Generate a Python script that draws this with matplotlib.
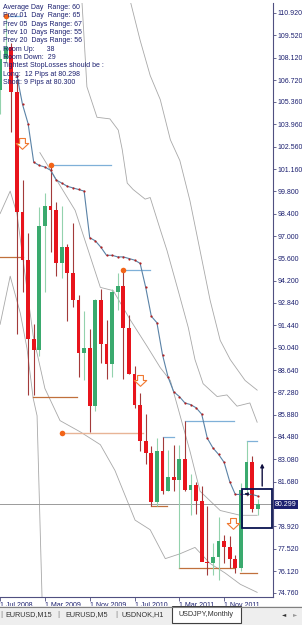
import numpy as np
import matplotlib.pyplot as plt
from matplotlib.path import Path
from matplotlib.patches import Rectangle
import matplotlib.transforms as mtransforms

plt.rcParams['font.family'] = ['Liberation Sans', 'DejaVu Sans']

# monthly USDJPY bars, Jul 2008 .. May 2012 (index 0 = Jul 2008)
opens = [106.1, 108.0, 108.8, 106.0, 98.5, 95.5, 90.6, 89.9, 97.6, 98.9, 98.6, 95.3,
         96.3, 94.7, 93.0, 89.7, 90.0, 86.4, 93.0, 90.3, 89.0, 93.5, 93.9, 91.3,
         88.4, 86.5, 84.2, 83.5, 80.4, 83.6, 81.1, 82.0, 81.8, 83.1, 81.2, 81.5,
         80.5, 76.7, 76.6, 77.0, 78.0, 77.6, 76.9, 76.3, 81.2, 82.9, 80.0]
highs = [108.6, 110.7, 109.0, 106.9, 100.5, 97.2, 91.5, 98.8, 99.7, 101.4, 99.1, 98.9,
         96.5, 97.8, 93.3, 92.3, 91.2, 93.1, 93.7, 91.8, 93.7, 94.7, 94.9, 92.1,
         88.9, 87.2, 85.9, 83.9, 84.4, 84.5, 83.7, 84.0, 84.0, 85.5, 82.2, 81.7,
         81.4, 80.2, 77.9, 79.5, 78.4, 78.3, 77.1, 81.6, 84.2, 83.3, 80.6]
lows = [104.6, 107.8, 103.5, 90.9, 93.5, 87.1, 87.1, 89.5, 93.5, 96.0, 94.5, 94.4,
        91.7, 92.6, 88.2, 88.0, 84.8, 86.1, 89.1, 88.1, 88.2, 92.4, 88.1, 88.4,
        86.3, 83.6, 82.8, 80.2, 80.2, 80.9, 81.1, 81.1, 76.3, 81.1, 79.6, 79.7,
        76.8, 75.9, 75.9, 75.6, 76.6, 76.3, 76.0, 76.1, 80.8, 79.8, 79.6]
closes = [108.0, 108.8, 106.0, 98.5, 95.5, 90.6, 89.9, 97.6, 98.9, 98.6, 95.3, 96.3,
          94.7, 93.0, 89.7, 90.0, 86.4, 93.0, 90.3, 89.0, 93.5, 93.9, 91.3, 88.4,
          86.5, 84.2, 83.5, 80.4, 83.6, 81.1, 82.0, 81.8, 83.1, 81.2, 81.5, 80.5,
          76.7, 76.6, 77.0, 78.0, 77.6, 76.9, 76.3, 81.2, 82.9, 80.0, 80.3]

# dotted trailing line (from month 3)
trail_start = 3
trail = [107.0, 105.2, 104.0, 101.6, 101.4, 101.3, 101.1, 100.5, 100.3, 100.1, 100.0,
         99.9, 99.8, 96.9, 96.7, 96.3, 95.8, 95.8, 95.7, 95.7, 95.6, 95.5, 95.3,
         93.8, 92.0, 91.6, 89.6, 88.2, 87.3, 87.0, 86.6, 86.5, 86.3, 85.9, 84.4,
         83.8, 83.4, 82.9, 81.7, 80.9, 80.9, 80.9, 80.9, 80.8]

# band lines (month, price)
upper1_m = [14.6, 15.5, 17.3, 19.6, 21.1, 21.8, 22.7, 23.75, 25.9, 26.8, 28.6, 29.8,
            31.8, 33.6, 34.8, 36.25, 38.75, 40.5, 42.3, 44.6, 45.9]
upper1_p = [111.7, 106.3, 104.4, 104.3, 103.6, 102.4, 100.3, 99.9, 99.3, 99.4, 97.4,
            96.1, 93.6, 91.3, 89.3, 87.8, 87.0, 87.1, 86.4, 86.6, 85.4]
upper2_m = [23.2, 25.0, 26.8, 28.6, 30.4, 32.1, 33.9, 35.7, 37.5, 39.3, 41.1, 43.75, 45.9]
upper2_p = [111.7, 109.2, 107.0, 105.5, 103.0, 101.7, 99.2, 96.1, 93.0, 90.5, 89.3,
            88.0, 87.4]
mid_m = [7.1, 13.4, 17.9, 20.2, 23.2, 26.3, 28.6, 30.4, 33.9, 35.7, 39.3, 42.9, 45.9]
mid_p = [102.2, 98.6, 93.8, 93.6, 91.8, 90.1, 88.8, 88.0, 83.6, 81.1, 79.9, 79.6, 79.6]
lower1_m = [0.0, 1.8, 3.0, 5.9, 8.0, 10.7, 14.3, 17.9, 20.5, 24.1, 26.8, 29.5, 32.1,
            34.8, 37.5, 40.2, 42.9, 45.9]
lower1_p = [98.4, 99.8, 98.4, 90.8, 87.5, 85.5, 84.8, 84.0, 82.4, 79.3, 78.7, 76.9,
            77.2, 77.6, 76.6, 76.0, 75.3, 74.8]
lower2_m = [0.0, 1.8, 3.6, 4.8, 5.9, 6.6, 7.5]
lower2_p = [91.5, 94.5, 92.2, 90.0, 86.9, 85.8, 74.3]

# levels: (start month, end month, price)
res_levels = [(1, 3.6, 110.7), (9, 19.8, 101.4), (22, 26.8, 94.9), (29, 31, 84.5),
              (33, 41.8, 85.5), (44, 45.9, 84.2)]
sup_levels = [(0, 4, 95.7), (5.9, 13.75, 87.0), (27, 29.8, 80.2), (32, 42, 76.3),
              (42.9, 45.9, 76.0)]
peach_level = (11, 25.5, 84.75)
top_dots_m = [1, 9, 22]
top_dots_p = [110.7, 101.4, 94.9]
low_dot = (11, 84.75)
arrows_m = [3.9, 25, 41.6]
arrows_p = [102.8, 88.0, 79.1]

bid = 80.299
date_ticks = [0, 8, 16, 24, 32, 40]
date_labels = ["1 Jul 2008", "1 Mar 2009", "1 Nov 2009", "1 Jul 2010", "1 Mar 2011",
               "1 Nov 2011"]
price_ticks = [110.920, 109.520, 108.120, 106.720, 105.360, 103.960, 102.560, 101.160,
               99.800, 98.400, 97.000, 95.600, 94.200, 92.840, 91.440, 90.040, 88.640,
               87.280, 85.880, 84.480, 83.080, 81.680, 78.920, 77.520, 76.120, 74.760]
info_lines = ["Average Day  Range: 60", "Prev 01  Day  Range: 65",
              "Prev 05  Days Range: 67", "Prev 10  Days Range: 55",
              "Prev 20  Days Range: 56", "Room Up:      38", "Room Down:  29",
              "Tightest StopLosses should be :", "Long:  12 Pips at 80.298",
              "Short: 9 Pips at 80.300"]
tabs = ["EURUSD,M15", "EURUSD,M5", "USDNOK,H1", "USDJPY,Monthly"]

navy = '#1c2070'
red = '#e8141c'
green = '#3aaa6e'

fig = plt.figure(figsize=(3.02, 6.25), dpi=100)
ax = fig.add_axes([0, 28 / 625, 273 / 302, 594 / 625])
ax.set_xlim(-0.02, 48.73)
ax.set_ylim(74.51, 111.52)

# bands
for mm, pp in [(upper1_m, upper1_p), (upper2_m, upper2_p), (mid_m, mid_p),
               (lower1_m, lower1_p), (lower2_m, lower2_p)]:
    ax.plot(mm, pp, color='#a8a8a8', lw=0.6, zorder=1)

ax.axhline(bid, color='#9a9a9a', lw=0.7, zorder=1)

# level lines
for a, b, p in res_levels:
    ax.plot([a, b], [p, p], color='#7fb0d8', lw=0.9, zorder=2)
for a, b, p in sup_levels:
    ax.plot([a, b], [p, p], color='#c0703c', lw=0.9, zorder=2)
ax.plot(peach_level[:2], [peach_level[2]] * 2, color='#e8b496', lw=1.0, zorder=2)

# candles
for i in range(len(opens)):
    o, h, l, c = opens[i], highs[i], lows[i], closes[i]
    up = c >= o
    ax.vlines(i, l, h, color='#93d2ad' if up else '#a33a3a', lw=0.8, zorder=3)
    ax.bar(i, max(abs(c - o), 0.12), bottom=min(o, c), width=0.68,
           color=green if up else red, zorder=4)

# trailing line with dots
tx = np.arange(trail_start, trail_start + len(trail))
ax.plot(tx, trail, color='#5a82a6', lw=0.8, zorder=5)
ax.plot(tx, trail, 'o', ms=1.6, color='#b22222', mec='none', zorder=6)

ax.plot(top_dots_m, top_dots_p, 'o', ms=4, color='#f26418', mec='none', zorder=6)
ax.plot([low_dot[0]], [low_dot[1]], 'o', ms=4, color='#f26418', mec='none', zorder=6)

# hollow down arrows
arrow = Path([(-0.35, 0.6), (0.35, 0.6), (0.35, 0.0), (0.75, 0.0), (0.0, -0.7),
              (-0.75, 0.0), (-0.35, 0.0), (-0.35, 0.6)])
ax.plot(arrows_m, arrows_p, ls='none', marker=arrow, ms=9, mfc='white',
        mec='#f07830', mew=0.8, zorder=7)

# current box and arrows
ax.add_patch(Rectangle((43.2, 78.8), 5.3, 2.45, fill=False, ec='#0a1450', lw=1.3,
                       zorder=8))
ax.annotate('', xy=(46.8, 83.0), xytext=(46.8, 81.25),
            arrowprops=dict(arrowstyle='-|>', color='#101040', lw=1.0,
                            mutation_scale=5), zorder=8)
ax.annotate('', xy=(43.2, 80.93), xytext=(44.4, 80.93),
            arrowprops=dict(arrowstyle='-|>', color='#101040', lw=0.8,
                            mutation_scale=4), zorder=8)

# info text
for k, s in enumerate(info_lines):
    ax.text(3 / 273, 1 - (7.5 + 8.35 * k - 3) / 594, s, transform=ax.transAxes,
            fontsize=5, color=navy, va='center', ha='left', zorder=9)

# axes styling
for side in ['left', 'top']:
    ax.spines[side].set_visible(False)
ax.spines['right'].set_color('#505080')
ax.spines['bottom'].set_color('#505080')
ax.yaxis.tick_right()
ax.set_yticks(price_ticks)
ax.set_yticklabels([f"{p:.3f}" for p in price_ticks])
ax.tick_params(axis='y', length=2, width=0.6, color='#505080', labelsize=5,
               labelcolor=navy, pad=1.5)
ax.set_xticks(date_ticks)
ax.set_xticklabels(date_labels, ha='left')
ax.tick_params(axis='x', length=3, width=0.6, color='#505080', labelsize=5,
               labelcolor=navy, pad=0.5)

trans = mtransforms.blended_transform_factory(ax.transAxes, ax.transData)
ax.text(1.008, bid, f"{bid:.3f}", transform=trans, fontsize=5, color='white',
        va='center', ha='left', zorder=10,
        bbox=dict(boxstyle='square,pad=0.15', fc=navy, ec='none'))

# tab bar
tb = fig.add_axes([0, 0, 1, 19 / 625])
tb.set_xlim(0, 302)
tb.set_ylim(19, 0)
tb.set_facecolor('#eeeeee')
tb.set_xticks([])
tb.set_yticks([])
for s in tb.spines.values():
    s.set_visible(False)
tb.plot([0, 302], [0.5, 0.5], color='#808080', lw=0.8)
tb.add_patch(Rectangle((172, 0), 69, 17, fc='white', ec='#404040', lw=0.8))
tab_x = [29, 87, 143, 206]
for s, x in zip(tabs, tab_x):
    tb.text(x, 8.5, s, fontsize=5.2, color='#333333', ha='center', va='center')
for x in [1.5, 58, 116]:
    tb.text(x, 8.5, '|', fontsize=6, color='#777777', ha='center', va='center')
tb.text(284, 8.5, '\u25c4', fontsize=4, color='#333333', ha='center', va='center',
        family='DejaVu Sans')
tb.text(295, 8.5, '\u25ba', fontsize=4, color='#999999', ha='center', va='center',
        family='DejaVu Sans')

fig.savefig('out.png', dpi=100)
